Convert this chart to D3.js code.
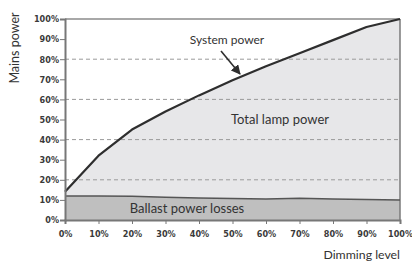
<!DOCTYPE html>
<html>
<head>
<meta charset="utf-8">
<script src="https://cdn.jsdelivr.net/npm/d3@7"></script>
<style>
  body { margin: 0; background: #fff; }
  svg { display: block; }
  .tick text { font-family: "Liberation Sans Narrow", "DejaVu Sans Condensed", sans-serif; font-weight: bold; font-size: 9px; fill: #3a3a3a; }
  .lbl { font-family: Lato, "Open Sans", sans-serif; fill: #333; }
</style>
</head>
<body>
<svg id="chart"></svg>
<script>
// Dimming level (%) and power values (% of mains power)
const levels = [0, 10, 20, 30, 40, 50, 60, 70, 80, 90, 100];
const systemPower = [14, 32, 45, 54, 62, 69.5, 76.5, 83, 89.5, 96, 100];
const ballastLoss = [12, 12, 11.8, 11.3, 11, 10.7, 10.5, 10.8, 10.4, 10.2, 10];
const yTicks = [0, 10, 20, 30, 40, 50, 60, 70, 80, 90, 100];
const gridLevels = [20, 40, 60, 80];

const width = 412, height = 261;
const margin = { top: 19, right: 12, bottom: 41, left: 65 };

const svg = d3.select("#chart")
    .attr("width", width)
    .attr("height", height);

const x = d3.scaleLinear().domain([0, 100]).range([margin.left, width - margin.right]);
const y = d3.scaleLinear().domain([0, 100]).range([height - margin.bottom, margin.top]);

const data = levels.map((d, i) => ({ level: d, sys: systemPower[i], ballast: ballastLoss[i] }));

// lamp power area (between ballast and system line)
svg.append("path")
    .datum(data)
    .attr("fill", "#e7e7e9")
    .attr("d", d3.area().x(d => x(d.level)).y0(d => y(d.ballast)).y1(d => y(d.sys)));

// ballast losses area
svg.append("path")
    .datum(data)
    .attr("fill", "#bfbfbf")
    .attr("d", d3.area().x(d => x(d.level)).y0(y(0)).y1(d => y(d.ballast)));

// dashed grid
svg.append("g")
    .selectAll("line")
    .data(gridLevels)
    .join("line")
    .attr("x1", x(0)).attr("x2", x(100))
    .attr("y1", d => y(d)).attr("y2", d => y(d))
    .attr("stroke", "#9a9a9a")
    .attr("stroke-width", 1)
    .attr("stroke-dasharray", "4,3");

// top and right frame
svg.append("line")
    .attr("x1", x(0)).attr("x2", x(100))
    .attr("y1", y(100)).attr("y2", y(100))
    .attr("stroke", "#a8a8a8").attr("stroke-width", 2);
svg.append("line")
    .attr("x1", x(100)).attr("x2", x(100))
    .attr("y1", y(100)).attr("y2", y(0))
    .attr("stroke", "#7a7a7a").attr("stroke-width", 1.5);

// ballast line
svg.append("path")
    .datum(data)
    .attr("fill", "none")
    .attr("stroke", "#555")
    .attr("stroke-width", 1.5)
    .attr("d", d3.line().x(d => x(d.level)).y(d => y(d.ballast)));

// system power line
svg.append("path")
    .datum(data)
    .attr("fill", "none")
    .attr("stroke", "#2e2e2e")
    .attr("stroke-width", 2.2)
    .attr("stroke-linejoin", "round")
    .attr("d", d3.line().x(d => x(d.level)).y(d => y(d.sys)));

// axes
const yAxis = svg.append("g")
    .attr("transform", `translate(${x(0)},0)`)
    .call(d3.axisLeft(y).tickValues(yTicks).tickSize(5).tickPadding(1).tickFormat(d => d + "%"));
const xAxis = svg.append("g")
    .attr("transform", `translate(0,${y(0)})`)
    .call(d3.axisBottom(x).tickValues(levels).tickSize(4).tickPadding(7).tickFormat(d => d + "%"));

[yAxis, xAxis].forEach(g => {
    g.select(".domain").attr("stroke", "#777").attr("stroke-width", 2);
    g.selectAll(".tick line").attr("stroke", "#777");
});

// arrow for the system power label
svg.append("defs").append("marker")
    .attr("id", "arrow")
    .attr("viewBox", "0 0 10 10")
    .attr("refX", 9).attr("refY", 5)
    .attr("markerWidth", 6).attr("markerHeight", 6)
    .attr("orient", "auto")
    .append("path")
    .attr("d", "M0,0 L10,5 L0,10 Z")
    .attr("fill", "#2e2e2e");

svg.append("line")
    .attr("x1", 221).attr("y1", 51)
    .attr("x2", 240).attr("y2", 74)
    .attr("stroke", "#2e2e2e")
    .attr("stroke-width", 1.6)
    .attr("marker-end", "url(#arrow)");

// labels
svg.append("text").attr("class", "lbl")
    .attr("x", 227).attr("y", 44)
    .attr("text-anchor", "middle")
    .attr("font-size", 12)
    .text("System power");

svg.append("text").attr("class", "lbl")
    .attr("x", 280).attr("y", 124)
    .attr("text-anchor", "middle")
    .attr("font-size", 13)
    .text("Total lamp power");

svg.append("text").attr("class", "lbl")
    .attr("x", 187).attr("y", 213)
    .attr("text-anchor", "middle")
    .attr("font-size", 13)
    .text("Ballast power losses");

svg.append("text").attr("class", "lbl")
    .attr("x", x(100)).attr("y", 259)
    .attr("text-anchor", "end")
    .attr("font-size", 12.3)
    .text("Dimming level");

svg.append("text").attr("class", "lbl")
    .attr("transform", "translate(19,48) rotate(-90)")
    .attr("text-anchor", "middle")
    .attr("font-size", 12.5)
    .text("Mains power");
</script>
</body>
</html>
